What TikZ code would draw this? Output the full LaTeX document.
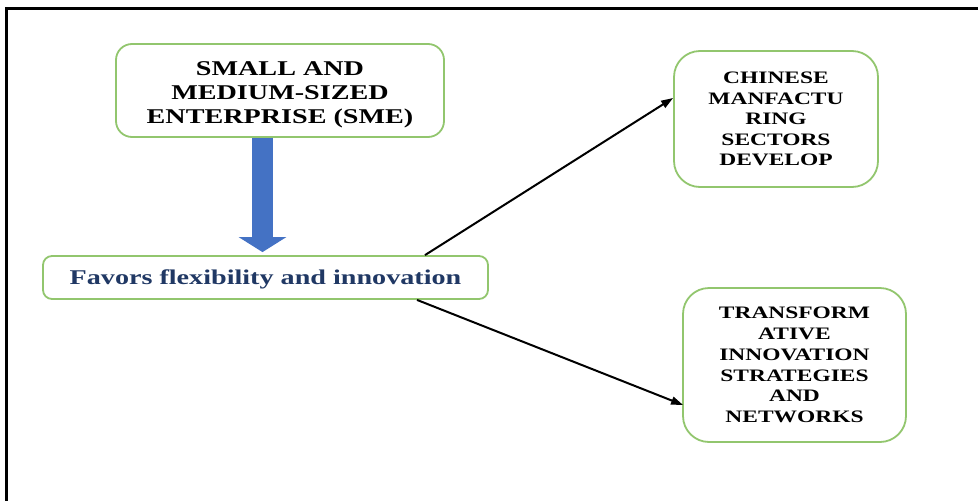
\documentclass[tikz,border=0pt]{standalone}
\usepackage{fontspec}
\setmainfont{Liberation Serif}[FakeStretch=1.34]
\usetikzlibrary{arrows.meta}
\definecolor{boxgreen}{RGB}{146,198,110}
\definecolor{arrowblue}{RGB}{68,114,196}
\definecolor{navy}{RGB}{32,56,100}
\tikzset{
  gbox/.style={draw=boxgreen, line width=1.8pt, fill=white, inner sep=0pt, align=center, font=\bfseries},
  conn/.style={draw=black, line width=2pt, -{Triangle[length=12pt,width=8pt]}},
  bigarrow/.style={draw=arrowblue, line width=21pt, -{Triangle[length=15pt,width=47pt]}},
}
\begin{document}
\begin{tikzpicture}[x=1pt,y=-1pt]
\useasboundingbox (0,0) rectangle (978,501);
\draw[line width=2.5pt] (6.3,501) -- (6.3,8.7) -- (978,8.7);

\node[gbox, rounded corners=16pt, minimum width=328pt, minimum height=93pt,
      font=\bfseries\fontsize{21}{24}\selectfont] (sme) at (280,90.5)
  {\raisebox{-4pt}[\height][\depth]{\begin{tabular}{@{}c@{}}SMALL AND\\MEDIUM-SIZED\\ENTERPRISE (SME)\end{tabular}}};

\node[gbox, rounded corners=9pt, minimum width=445pt, minimum height=43pt,
      text=navy, font=\bfseries\fontsize{21}{24}\selectfont] (fav) at (265.5,277.5)
  {\raisebox{-1.5pt}[\height][\depth]{Favors flexibility and innovation}};

\node[gbox, rounded corners=26pt, minimum width=204pt, minimum height=136pt,
      font=\bfseries\fontsize{17.5}{20.6}\selectfont] (chn) at (776,119)
  {CHINESE\\MANFACTU\\RING\\SECTORS\\DEVELOP};

\node[gbox, rounded corners=26pt, minimum width=223pt, minimum height=154pt,
      font=\bfseries\fontsize{17.5}{20.8}\selectfont] (trn) at (794.5,365)
  {TRANSFORM\\ATIVE\\INNOVATION\\STRATEGIES\\AND\\NETWORKS};

\draw[bigarrow] ([xshift=-17.5pt]sme.south) -- ([xshift=-3pt,yshift=3pt]fav.north);
\draw[conn] ([xshift=159.5pt]fav.north) -- ([yshift=21pt]chn.west);
\draw[conn] ([xshift=151.5pt]fav.south) -- ([xshift=1pt,yshift=-40pt]trn.west);
\end{tikzpicture}
\end{document}
